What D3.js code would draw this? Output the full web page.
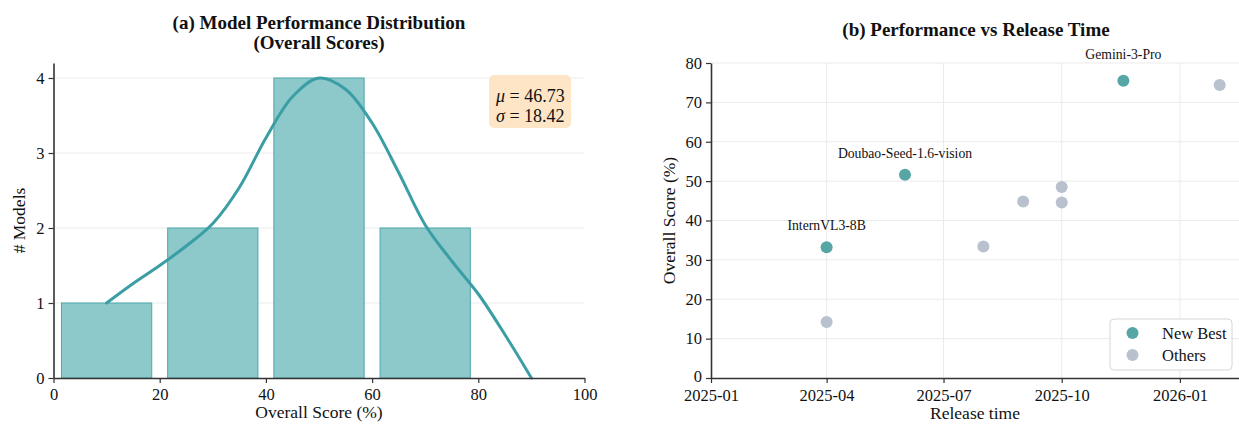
<!DOCTYPE html>
<html>
<head>
<meta charset="utf-8">
<script src="https://cdn.jsdelivr.net/npm/d3@7"></script>
<style>
  body { margin: 0; background: #fff; }
  svg text { font-family: "Liberation Serif", "DejaVu Serif", serif; fill: #111; }
</style>
</head>
<body>
<div id="chart"></div>
<script>
// ---- data: (a) histogram ----
const binEdges = [0, 20, 40, 60, 80, 100];
const binCounts = [1, 2, 4, 2, 0];
// smooth curve
const curveX = [10, 15, 20, 25, 30, 35, 40, 45, 50, 55, 60, 65, 70, 75, 80, 85, 90];
const curveY = [1.0, 1.26, 1.5, 1.76, 2.06, 2.54, 3.2, 3.75, 4.0, 3.85, 3.4, 2.74, 2.04, 1.56, 1.12, 0.58, 0];
const statMean = "46.73";
const statStd = "18.42";
const histTicksX = [0, 20, 40, 60, 80, 100];
const histTicksY = [0, 1, 2, 3, 4];

// ---- data: (b) scatter ----
const bestNames = ["InternVL3-8B", "Doubao-Seed-1.6-vision", "Gemini-3-Pro"];
const bestDates = ["2025-04-01", "2025-06-01", "2025-11-18"];
const bestScores = [33.2, 51.6, 75.5];
const otherDates = ["2025-04-01", "2025-08-01", "2025-09-01", "2025-10-01", "2025-10-01", "2026-02-01"];
const otherScores = [14.2, 33.4, 44.8, 48.5, 44.6, 74.4];
const timeTicks = ["2025-01-01", "2025-04-01", "2025-07-01", "2025-10-01", "2026-01-01"];
const scoreTicks = [0, 10, 20, 30, 40, 50, 60, 70, 80];
const timeLimits = ["2025-01-01", "2026-02-16"];

const W = 1239, H = 424;
const teal = "#3a9ea4";
const barFill = "#8dc8ca";
const bestColor = "#57a6a6";
const otherColor = "#b9c0ce";
const spine = "#333";
const gridColor = "#ebebeb";
const tickFont = 16.5;

const svg = d3.select("#chart").append("svg")
  .attr("width", W).attr("height", H);

const parseDay = d3.utcParse("%Y-%m-%d");

const styleAxis = (g) => {
  g.select(".domain").attr("stroke", spine).attr("stroke-width", 1.6);
  g.selectAll(".tick line").attr("stroke", spine).attr("stroke-width", 1.2);
  g.selectAll(".tick text").attr("font-size", tickFont).attr("fill", "#111");
};

// ================= (a) =================
const a = {left: 53.5, right: 584.5, top: 63, bottom: 378};
const xA = d3.scaleLinear().domain([0, 100]).range([a.left, a.right]);
const yA = d3.scaleLinear().domain([0, 4.2]).range([a.bottom, a.top]);

const gA = svg.append("g");

// grid
gA.selectAll("line.grid").data(histTicksY.filter(d => d > 0)).enter()
  .append("line")
  .attr("x1", a.left).attr("x2", a.right)
  .attr("y1", d => yA(d)).attr("y2", d => yA(d))
  .attr("stroke", gridColor).attr("stroke-width", 1);

// bars
const bins = binCounts.map((c, i) => ({x0: binEdges[i], x1: binEdges[i + 1], c}));
const rwidth = 0.85;
gA.selectAll("rect.bar").data(bins.filter(b => b.c > 0)).enter()
  .append("rect")
  .attr("x", d => xA(d.x0 + (d.x1 - d.x0) * (1 - rwidth) / 2))
  .attr("width", d => xA(d.x0 + (d.x1 - d.x0) * rwidth) - xA(d.x0))
  .attr("y", d => yA(d.c))
  .attr("height", d => yA(0) - yA(d.c))
  .attr("fill", barFill)
  .attr("stroke", "#4fa8ac")
  .attr("stroke-width", 1);

// curve
const curvePts = curveX.map((x, i) => [x, curveY[i]]);
gA.append("path")
  .datum(curvePts)
  .attr("fill", "none")
  .attr("stroke", teal)
  .attr("stroke-width", 3)
  .attr("stroke-linecap", "round")
  .attr("d", d3.line().x(d => xA(d[0])).y(d => yA(d[1])).curve(d3.curveCatmullRom));

// axes
const axA_x = gA.append("g")
  .attr("transform", `translate(0,${a.bottom})`)
  .call(d3.axisBottom(xA).tickValues(histTicksX).tickSize(5).tickPadding(5).tickSizeOuter(0));
const axA_y = gA.append("g")
  .attr("transform", `translate(${a.left},0)`)
  .call(d3.axisLeft(yA).tickValues(histTicksY).tickFormat(d3.format("d"))
    .tickSize(5).tickPadding(4).tickSizeOuter(0));
styleAxis(axA_x);
styleAxis(axA_y);

// stats box
const box = gA.append("g");
box.append("rect")
  .attr("x", 489).attr("y", 75).attr("width", 82).attr("height", 53)
  .attr("rx", 5).attr("fill", "#fde5c6");
const statLines = [["μ", statMean], ["σ", statStd]];
statLines.forEach((s, i) => {
  const t = box.append("text")
    .attr("x", 496).attr("y", 102 + i * 20)
    .attr("font-size", 18);
  t.append("tspan").attr("font-style", "italic").text(s[0]);
  t.append("tspan").text(" = " + s[1]);
});

// titles / labels
gA.append("text").attr("x", (a.left + a.right) / 2).attr("y", 29)
  .attr("text-anchor", "middle").attr("font-size", 19).attr("font-weight", "bold")
  .text("(a) Model Performance Distribution");
gA.append("text").attr("x", (a.left + a.right) / 2).attr("y", 49)
  .attr("text-anchor", "middle").attr("font-size", 19).attr("font-weight", "bold")
  .text("(Overall Scores)");
gA.append("text").attr("x", (a.left + a.right) / 2).attr("y", 418)
  .attr("text-anchor", "middle").attr("font-size", 17.5)
  .text("Overall Score (%)");
gA.append("text")
  .attr("transform", `translate(25,${(a.top + a.bottom) / 2}) rotate(-90)`)
  .attr("text-anchor", "middle").attr("font-size", 17.5)
  .text("# Models");

// ================= (b) =================
const b = {left: 711, right: 1239, top: 63, bottom: 378};
const xB = d3.scaleUtc().domain(timeLimits.map(parseDay)).range([b.left, b.right]);
const yB = d3.scaleLinear().domain([0, 80]).range([b.bottom, b.top]);

const gB = svg.append("g");

// grid
gB.selectAll("line.gy").data(scoreTicks.filter(d => d > 0)).enter()
  .append("line")
  .attr("x1", b.left).attr("x2", b.right)
  .attr("y1", d => yB(d)).attr("y2", d => yB(d))
  .attr("stroke", gridColor).attr("stroke-width", 1);
gB.selectAll("line.gx").data(timeTicks.slice(1).map(parseDay)).enter()
  .append("line")
  .attr("x1", d => xB(d)).attr("x2", d => xB(d))
  .attr("y1", b.top).attr("y2", b.bottom)
  .attr("stroke", gridColor).attr("stroke-width", 1);

// axes
const axB_x = gB.append("g")
  .attr("transform", `translate(0,${b.bottom})`)
  .call(d3.axisBottom(xB).tickValues(timeTicks.map(parseDay))
    .tickFormat(d3.utcFormat("%Y-%m")).tickSize(5).tickPadding(6).tickSizeOuter(0));
const axB_y = gB.append("g")
  .attr("transform", `translate(${b.left},0)`)
  .call(d3.axisLeft(yB).tickValues(scoreTicks).tickSize(5).tickPadding(4).tickSizeOuter(0));
styleAxis(axB_x);
styleAxis(axB_y);
// lift the "0" label a touch so it clears the first date label
axB_y.selectAll(".tick text").filter(d => d === 0).attr("dy", "0.2em");

// points
const others = otherDates.map((d, i) => ({date: parseDay(d), score: otherScores[i]}));
const best = bestNames.map((n, i) => ({name: n, date: parseDay(bestDates[i]), score: bestScores[i]}));

gB.selectAll("circle.other").data(others).enter()
  .append("circle")
  .attr("cx", d => xB(d.date)).attr("cy", d => yB(d.score))
  .attr("r", 6).attr("fill", otherColor);
gB.selectAll("circle.best").data(best).enter()
  .append("circle")
  .attr("cx", d => xB(d.date)).attr("cy", d => yB(d.score))
  .attr("r", 6).attr("fill", bestColor);

// labels of new-best points
gB.selectAll("text.lab").data(best).enter()
  .append("text")
  .attr("x", d => xB(d.date))
  .attr("y", d => yB(d.score) - (d.name === "Gemini-3-Pro" ? 22 : 17))
  .attr("text-anchor", "middle").attr("font-size", 13.7)
  .text(d => d.name);

// legend
const lg = gB.append("g").attr("transform", "translate(1110,319)");
lg.append("rect").attr("width", 122).attr("height", 51).attr("rx", 4)
  .attr("fill", "#fff").attr("fill-opacity", 0.9)
  .attr("stroke", "#d6d6d6").attr("stroke-width", 1);
[["New Best", bestColor], ["Others", otherColor]].forEach((e, i) => {
  lg.append("circle").attr("cx", 22.5).attr("cy", 14 + i * 22).attr("r", 6).attr("fill", e[1]);
  lg.append("text").attr("x", 52).attr("y", 19.5 + i * 22).attr("font-size", 16.5).text(e[0]);
});

// titles / labels
gB.append("text").attr("x", 976).attr("y", 36)
  .attr("text-anchor", "middle").attr("font-size", 19).attr("font-weight", "bold")
  .text("(b) Performance vs Release Time");
gB.append("text").attr("x", 975).attr("y", 419)
  .attr("text-anchor", "middle").attr("font-size", 17.5)
  .text("Release time");
gB.append("text")
  .attr("transform", `translate(675,${(b.top + b.bottom) / 2}) rotate(-90)`)
  .attr("text-anchor", "middle").attr("font-size", 17.5)
  .text("Overall Score (%)");
</script>
</body>
</html>
